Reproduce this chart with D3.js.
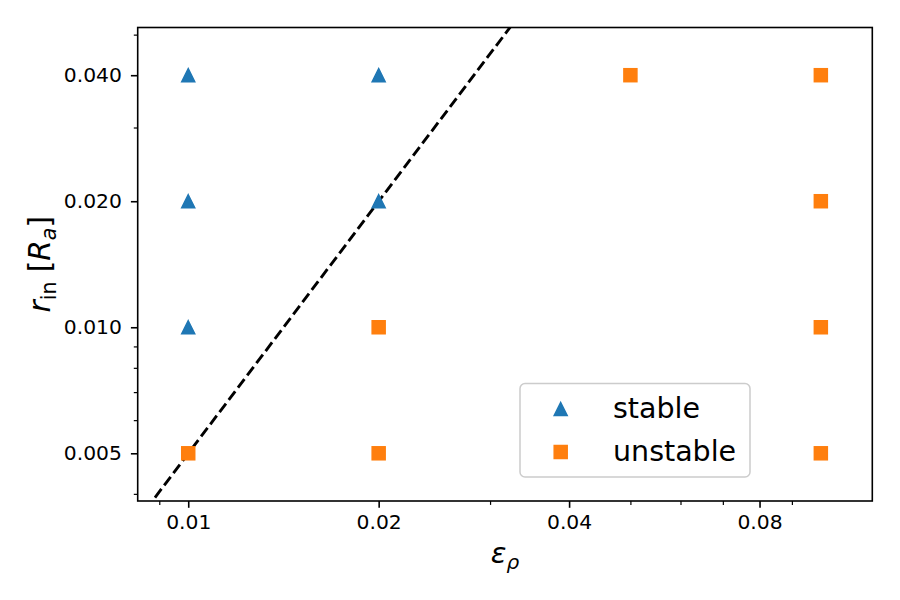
<!DOCTYPE html>
<html>
<head>
<meta charset="utf-8">
<script src="https://cdn.jsdelivr.net/npm/d3@7"></script>
<style>
  html, body { margin: 0; padding: 0; background: #fff; }
  svg { display: block; font-family: "DejaVu Sans", sans-serif; }
</style>
</head>
<body>
<svg id="chart" width="900" height="600"></svg>
<script>
// ---- data ----
const stableX = [0.01, 0.02, 0.01, 0.02, 0.01];
const stableY = [0.04, 0.04, 0.02, 0.02, 0.01];
const unstableX = [0.01, 0.02, 0.02, 0.05, 0.1, 0.1, 0.1, 0.1];
const unstableY = [0.005, 0.01, 0.005, 0.04, 0.04, 0.02, 0.01, 0.005];
const lineX = [0.00886, 0.0335];
const lineY = [0.00392, 0.0561];
const xTicks = [0.01, 0.02, 0.04, 0.08];
const xTickLabels = ["0.01", "0.02", "0.04", "0.08"];
const xMinorTicks = [0.009, 0.03, 0.05, 0.06, 0.07, 0.09];
const yTicks = [0.005, 0.01, 0.02, 0.04];
const yTickLabels = ["0.005", "0.010", "0.020", "0.040"];
const yMinorTicks = [0.004, 0.006, 0.007, 0.008, 0.009, 0.03, 0.05];
const xLimits = [0.00832, 0.1206];
const yLimits = [0.003846, 0.052];
const legendLabels = ["stable", "unstable"];

const blue = "#1f77b4", orange = "#ff7f0e";
const L = 137.7, R = 872.3, T = 27.5, B = 501;

const svg = d3.select("#chart");
const x = d3.scaleLog().domain(xLimits).range([L, R]);
const y = d3.scaleLog().domain(yLimits).range([B, T]);

svg.append("defs").append("clipPath").attr("id", "clip")
  .append("rect").attr("x", L).attr("y", T).attr("width", R - L).attr("height", B - T);

// axes
const xAxis = d3.axisBottom(x).tickValues(xTicks).tickFormat((d, i) => xTickLabels[i])
  .tickSizeInner(6.8).tickSizeOuter(0).tickPadding(6.5);
const xMinor = d3.axisBottom(x).tickValues(xMinorTicks).tickFormat("")
  .tickSizeInner(3.9).tickSizeOuter(0);
const yAxis = d3.axisLeft(y).tickValues(yTicks).tickFormat((d, i) => yTickLabels[i])
  .tickSizeInner(6.8).tickSizeOuter(0).tickPadding(9);
const yMinor = d3.axisLeft(y).tickValues(yMinorTicks).tickFormat("")
  .tickSizeInner(3.9).tickSizeOuter(0);

function style(g, w) {
  g.select(".domain").remove();
  g.selectAll(".tick line").attr("stroke", "#000").attr("stroke-width", w);
  g.selectAll(".tick text").attr("fill", "#000").style("font-size", "20.3px")
    .style("font-family", "DejaVu Sans");
}
svg.append("g").attr("transform", `translate(0,${B})`).call(xMinor).call(g => style(g, 1.2));
svg.append("g").attr("transform", `translate(0,${B})`).call(xAxis).call(g => style(g, 1.6));
svg.append("g").attr("transform", `translate(${L},0)`).call(yMinor).call(g => style(g, 1.2));
svg.append("g").attr("transform", `translate(${L},0)`).call(yAxis).call(g => style(g, 1.6));

// dashed line
const plot = svg.append("g").attr("clip-path", "url(#clip)");
plot.append("path")
  .datum(lineX.map((d, i) => [d, lineY[i]]))
  .attr("d", d3.line().x(d => x(d[0])).y(d => y(d[1])))
  .attr("fill", "none").attr("stroke", "#000").attr("stroke-width", 2.9)
  .attr("stroke-dasharray", "10.7,4.6");

function triPath(cx, cy, s) {
  const h = s / 2;
  return `M${cx},${cy - h}L${cx + h},${cy + h}L${cx - h},${cy + h}Z`;
}
const ms = 13;
plot.selectAll(".st").data(stableX.map((d, i) => [d, stableY[i]])).enter()
  .append("path").attr("d", d => triPath(x(d[0]), y(d[1]), ms))
  .attr("fill", blue).attr("stroke", blue).attr("stroke-width", 1.5).attr("stroke-linejoin", "miter");
plot.selectAll(".us").data(unstableX.map((d, i) => [d, unstableY[i]])).enter()
  .append("rect").attr("x", d => x(d[0]) - ms / 2).attr("y", d => y(d[1]) - ms / 2)
  .attr("width", ms).attr("height", ms)
  .attr("fill", orange).attr("stroke", orange).attr("stroke-width", 1.5);

// frame
svg.append("rect").attr("x", L).attr("y", T).attr("width", R - L).attr("height", B - T)
  .attr("fill", "none").attr("stroke", "#000").attr("stroke-width", 1.6);

// axis labels
const xl = svg.append("text").attr("x", (L + R) / 2).attr("y", 563)
  .attr("text-anchor", "middle").style("font-size", "29px").style("font-family", "DejaVu Sans");
xl.append("tspan").style("font-style", "italic").text("ε");
xl.append("tspan").style("font-style", "italic").style("font-size", "20px").attr("dy", 6).text("ρ");

const yl = svg.append("text").attr("transform", `translate(50,${(T + B) / 2}) rotate(-90)`)
  .attr("text-anchor", "middle").style("font-size", "29.5px").style("font-family", "DejaVu Sans");
yl.append("tspan").style("font-style", "italic").text("r");
yl.append("tspan").style("font-size", "20.5px").attr("dy", 6).text("in");
yl.append("tspan").attr("dy", -6).text("\u00a0[");
yl.append("tspan").style("font-style", "italic").text("R");
yl.append("tspan").style("font-style", "italic").style("font-size", "20.5px").attr("dy", 6).text("a");
yl.append("tspan").attr("dy", -6).text("]");

// legend
const lg = svg.append("g");
lg.append("rect").attr("x", 520).attr("y", 383.5).attr("width", 230).attr("height", 93.5)
  .attr("rx", 5).attr("fill", "#fff").attr("fill-opacity", 0.8)
  .attr("stroke", "#cccccc").attr("stroke-width", 1.5);
const legY = [409, 452];
lg.append("path").attr("d", triPath(560.7, legY[0], ms)).attr("fill", blue).attr("stroke", blue).attr("stroke-width", 1.5);
lg.append("rect").attr("x", 560.7 - ms / 2).attr("y", legY[1] - ms / 2).attr("width", ms).attr("height", ms)
  .attr("fill", orange).attr("stroke", orange).attr("stroke-width", 1.5);
legendLabels.forEach((t, i) => {
  lg.append("text").attr("x", 613).attr("y", legY[i] + 8.5)
    .style("font-size", "28.5px").style("font-family", "DejaVu Sans").attr("fill", "#000").text(t);
});
</script>
</body>
</html>
